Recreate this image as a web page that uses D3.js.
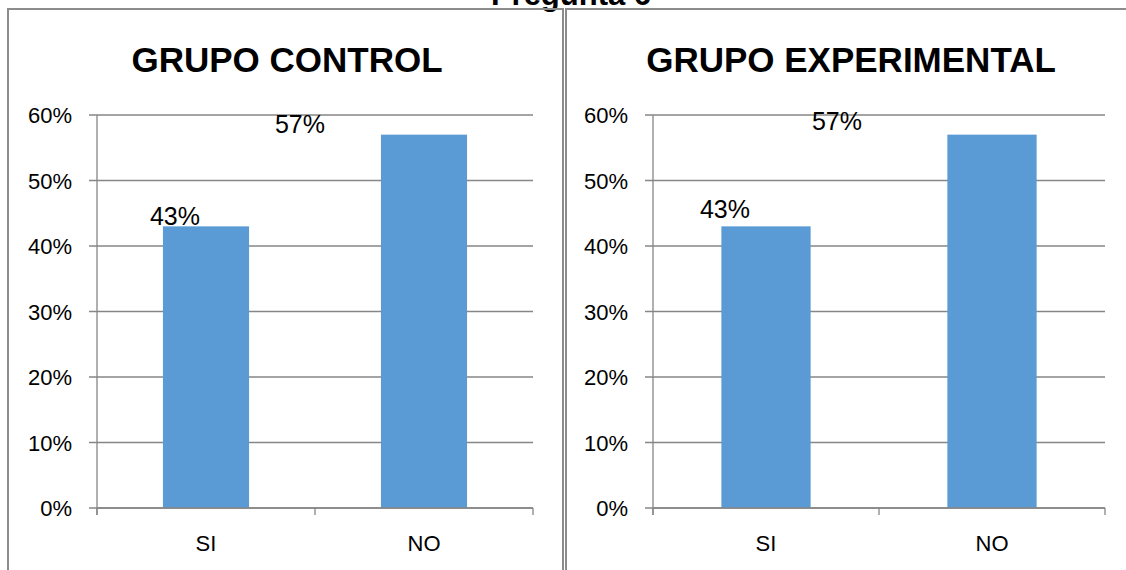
<!DOCTYPE html>
<html>
<head>
<meta charset="utf-8">
<script src="https://cdn.jsdelivr.net/npm/d3@7"></script>
<style>
  body { margin: 0; background: #fff; }
  svg { display: block; font-family: "Liberation Sans", Arial, sans-serif; }
</style>
</head>
<body>
<div id="chart"></div>
<script>
// data
var categories = ["SI", "NO"];
var controlValues = [0.43, 0.57];
var experimentalValues = [0.43, 0.57];
var panelTitles = ["GRUPO CONTROL", "GRUPO EXPERIMENTAL"];
var yTicks = [0, 0.1, 0.2, 0.3, 0.4, 0.5, 0.6];

var W = 1126, H = 570;
var GRID = "#868686";
var BAR = "#5B9BD5";

var svg = d3.select("#chart").append("svg")
    .attr("width", W).attr("height", H);

// overall title, mostly cut off at the top
svg.append("text")
    .attr("x", 571).attr("y", 5)
    .attr("text-anchor", "middle")
    .style("font-weight", "bold").style("font-size", "31px")
    .text("Pregunta 6");

/**
 * draw one panel
 * labelOffsets: manual data label placement (dx from bar centre, dy from bar top)
 */
function drawPanel(opts) {
    var g = svg.append("g");

    g.append("rect")
        .attr("x", opts.frame[0]).attr("y", 9)
        .attr("width", opts.frame[1] - opts.frame[0]).attr("height", H + 20)
        .attr("fill", "none").attr("stroke", "#8c8c8c").attr("stroke-width", 2);

    g.append("text")
        .attr("x", opts.titleX).attr("y", 72)
        .attr("text-anchor", "middle")
        .style("font-weight", "bold").style("font-size", "35px")
        .text(opts.title);

    var x = d3.scaleBand().domain(categories).range([opts.left, opts.right]).padding(0);
    var y = d3.scaleLinear().domain([0, 0.6]).range([508, 115]);

    // gridlines + y ticks
    g.selectAll("line.grid").data(yTicks).enter().append("line")
        .attr("class", "grid")
        .attr("x1", opts.left - 8).attr("x2", opts.right)
        .attr("y1", function(d) { return y(d); }).attr("y2", function(d) { return y(d); })
        .attr("stroke", GRID).attr("stroke-width", 1.3);

    g.selectAll("text.ytick").data(yTicks).enter().append("text")
        .attr("class", "ytick")
        .attr("x", opts.left - 25).attr("y", function(d) { return y(d) + 8; })
        .attr("text-anchor", "end")
        .style("font-size", "22px")
        .text(d3.format(".0%"));

    // y axis line
    g.append("line")
        .attr("x1", opts.left).attr("x2", opts.left)
        .attr("y1", y(0.6)).attr("y2", y(0) + 7)
        .attr("stroke", GRID).attr("stroke-width", 1.3);

    // category ticks
    var catTicks = [opts.left].concat(categories.map(function(c) { return x(c) + x.bandwidth(); }));
    g.selectAll("line.ctick").data(catTicks).enter().append("line")
        .attr("class", "ctick")
        .attr("x1", function(d) { return d; }).attr("x2", function(d) { return d; })
        .attr("y1", y(0)).attr("y2", y(0) + 7)
        .attr("stroke", GRID).attr("stroke-width", 1.3);

    g.selectAll("text.cat").data(categories).enter().append("text")
        .attr("class", "cat")
        .attr("x", function(d) { return x(d) + x.bandwidth() / 2; })
        .attr("y", 551)
        .attr("text-anchor", "middle")
        .style("font-size", "22px")
        .text(function(d) { return d; });

    var barW = x.bandwidth() * 0.395;
    g.selectAll("rect.bar").data(opts.values).enter().append("rect")
        .attr("class", "bar")
        .attr("x", function(d, i) { return x(categories[i]) + (x.bandwidth() - barW) / 2; })
        .attr("y", function(d) { return y(d); })
        .attr("width", barW)
        .attr("height", function(d) { return y(0) - y(d); })
        .attr("fill", BAR);

    // bottom axis line drawn over bars
    g.append("line")
        .attr("x1", opts.left).attr("x2", opts.right)
        .attr("y1", y(0)).attr("y2", y(0))
        .attr("stroke", GRID).attr("stroke-width", 1.3);

    g.selectAll("text.lbl").data(opts.values).enter().append("text")
        .attr("class", "lbl")
        .attr("x", function(d, i) { return x(categories[i]) + x.bandwidth() / 2 + opts.labelOffsets[i][0]; })
        .attr("y", function(d, i) { return y(d) + opts.labelOffsets[i][1]; })
        .attr("text-anchor", "middle")
        .style("font-size", "25px")
        .text(d3.format(".0%"));
}

drawPanel({
    frame: [8, 563], left: 97, right: 533, titleX: 287,
    title: panelTitles[0], values: controlValues,
    labelOffsets: [[-31, -1], [-124, -2]]
});

drawPanel({
    frame: [566, 1140], left: 653, right: 1105, titleX: 851,
    title: panelTitles[1], values: experimentalValues,
    labelOffsets: [[-41, -8], [-155, -5]]
});
</script>
</body>
</html>
